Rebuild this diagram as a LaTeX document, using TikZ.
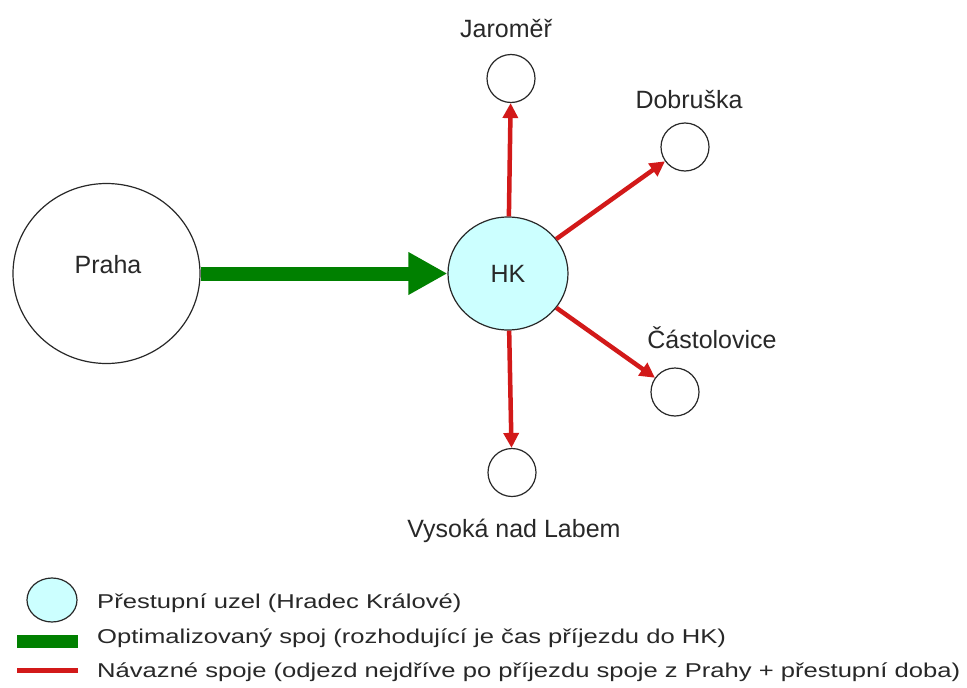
\documentclass[tikz,border=0pt]{standalone}
\usepackage{fontspec}
\setmainfont{Liberation Sans}
\newfontfamily\legendfont{Liberation Sans}[FakeStretch=1.28]
\usetikzlibrary{arrows.meta,shapes.geometric}
\definecolor{hkfill}{RGB}{204,255,255}
\definecolor{optgreen}{RGB}{0,128,0}
\definecolor{linkred}{RGB}{210,25,25}
\definecolor{outline}{RGB}{40,40,40}
\definecolor{txt}{RGB}{40,40,40}
\begin{document}
\begin{tikzpicture}[x=1pt,y=-1pt,
  stn/.style={circle, draw=outline, line width=1.2pt, fill=white, minimum size=48pt, inner sep=0pt},
  bigc/.style={ellipse, draw=outline, line width=1.2pt, fill=white, minimum width=187pt, minimum height=180pt, inner sep=0pt},
  hub/.style={ellipse, draw=outline, line width=1.2pt, fill=hkfill, minimum width=120pt, minimum height=113pt, inner sep=0pt, text=txt, font=\fontsize{25}{30}\selectfont},
  lbl/.style={font=\fontsize{25}{30}\selectfont, text=txt, anchor=base, inner sep=0pt},
  greenarrow/.style={draw=optgreen, line width=14pt, -{Triangle[length=39pt,width=40pt]}},
  redarrow/.style={draw=linkred, line width=4.5pt, -{Triangle[length=15pt,width=15pt]}},
  legtext/.style={font=\legendfont\fontsize{20}{24}\selectfont, text=txt, anchor=base west, inner sep=0pt}
]
\useasboundingbox[fill=white] (0,0) rectangle (967,688);

% main nodes
\node[bigc] (praha) at (106.5,273.5) {};
\node[lbl] (prahat) at (108,273) {Praha};
\node[hub] (hk) at (508,273.5) {HK};

\node[stn] (jar) at (511,78.5) {};
\node[stn] (dob) at (685,147) {};
\node[stn] (cas) at (675,392) {};
\node[stn] (vys) at (512,472.5) {};

\node[lbl] (jart) at (506,37) {Jaroměř};
\node[lbl] (dobt) at (689,108) {Dobruška};
\node[lbl] (cast) at (712,348) {Částolovice};
\node[lbl] (vyst) at (514,537) {Vysoká nad Labem};

% connectors
\draw[greenarrow] (praha) -- (hk);
\draw[redarrow] (hk) -- (jar);
\draw[redarrow] (hk) -- (dob);
\draw[redarrow] (hk) -- (cas);
\draw[redarrow] (hk) -- (vys);

% legend
\node[ellipse, draw=outline, line width=1.2pt, fill=hkfill, minimum width=50pt, minimum height=44pt, inner sep=0pt] (legnode) at (52,600) {};
\coordinate (g1) at (17,641.5);
\coordinate (g2) at (78,641.5);
\draw[draw=optgreen, line width=13pt] (g1) -- (g2);
\coordinate (r1) at (17,670);
\coordinate (r2) at (78,670);
\draw[draw=linkred, line width=5pt] (r1) -- (r2);

\node[legtext] (l1) at (97,608) {Přestupní uzel (Hradec Králové)};
\node[legtext] (l2) at (97,643) {Optimalizovaný spoj (rozhodující je čas příjezdu do HK)};
\node[legtext] (l3) at (97,677) {Návazné spoje (odjezd nejdříve po příjezdu spoje z Prahy + přestupní doba)};
\end{tikzpicture}
\end{document}
